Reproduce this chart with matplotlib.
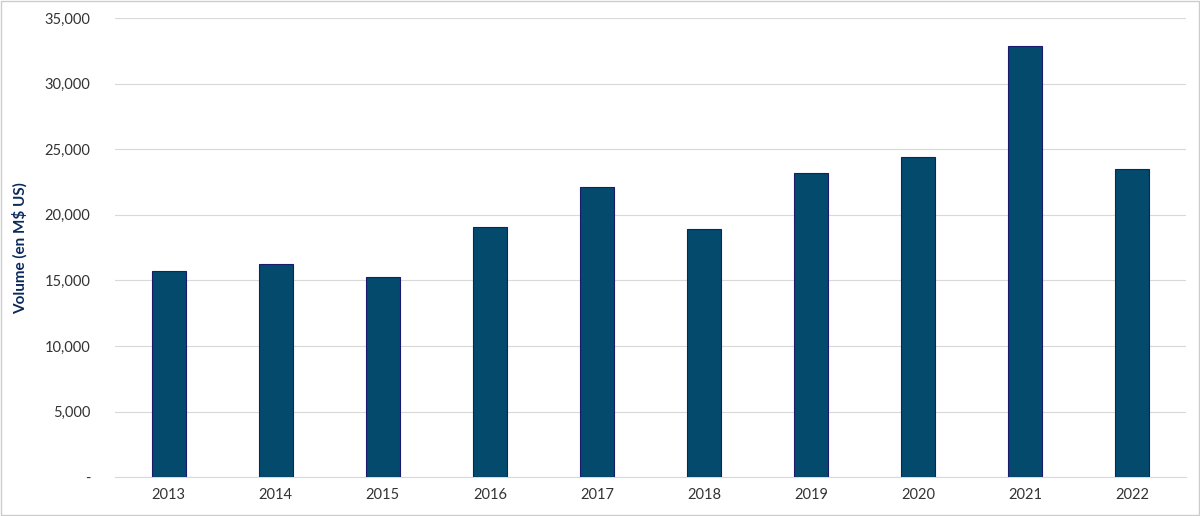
import matplotlib
matplotlib.use('Agg')
import matplotlib.pyplot as plt
from matplotlib.ticker import FuncFormatter

years = ['2013', '2014', '2015', '2016', '2017', '2018', '2019', '2020', '2021', '2022']
volumes = [15700, 16250, 15250, 19070, 22100, 18900, 23200, 24400, 32900, 23500]

plt.rcParams['font.family'] = 'Lato'

fig = plt.figure(figsize=(12, 5.16), dpi=100)
ax = fig.add_axes([0.096, 0.075, 0.892, 0.89])

x = range(len(years))
ax.bar(x, volumes, width=0.32, color='#034a6c', edgecolor='#1a1a6e', linewidth=0.8, zorder=3)

ax.set_xlim(-0.5, len(years) - 0.5)
ax.set_ylim(0, 35000)
ax.set_yticks(range(0, 35001, 5000))
ax.yaxis.set_major_formatter(FuncFormatter(lambda v, p: '-' if v == 0 else f'{int(v):,}'))
ax.set_xticks(list(x))
ax.set_xticklabels(years)
ax.grid(axis='y', color='#d9d9d9', linewidth=0.8, zorder=0)
ax.tick_params(length=0, labelsize=10.5, colors='#333333', pad=8)
ax.tick_params(axis='y', pad=18)
for s in ['top', 'right', 'left']:
    ax.spines[s].set_visible(False)
ax.spines['bottom'].set_color('#d9d9d9')

ax.set_ylabel('Volume (en M$ US)', fontsize=11, fontweight='bold', color='#0b2a5b', labelpad=12)

fig.patches.append(plt.Rectangle((0.001, 0.002), 0.998, 0.996, transform=fig.transFigure,
                                 fill=False, edgecolor='#cccccc', linewidth=1))

fig.savefig('out.png', dpi=100)
